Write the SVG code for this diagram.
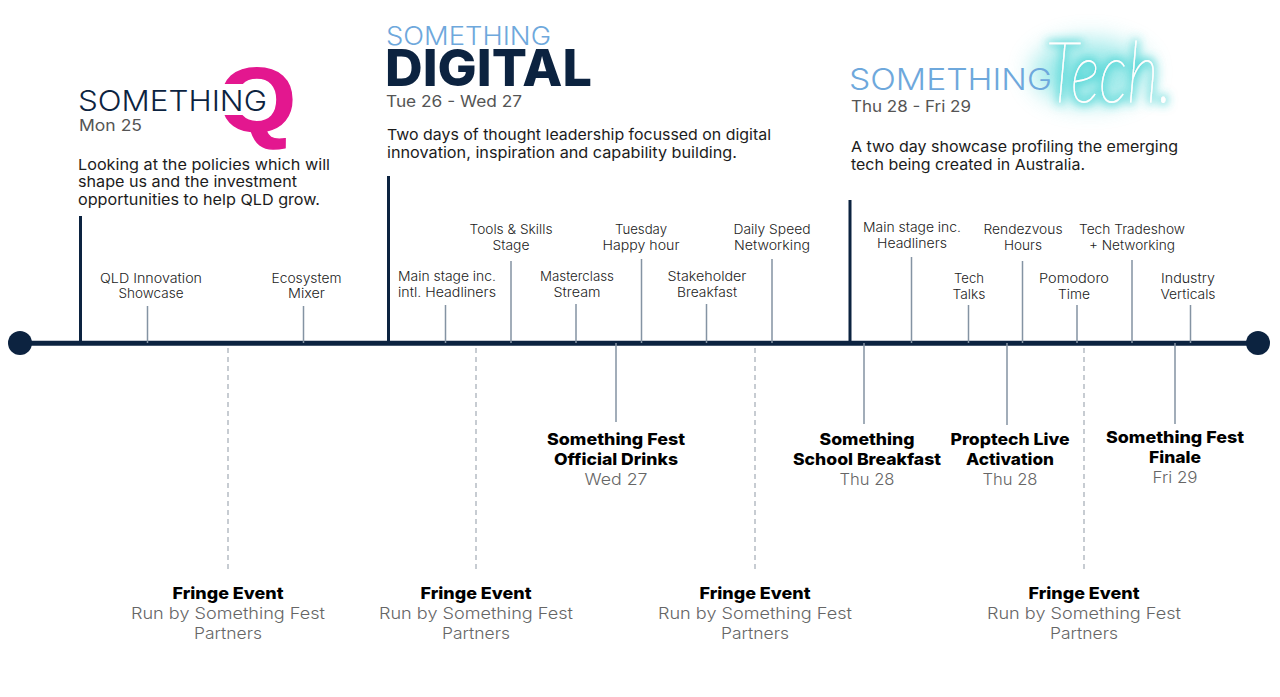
<svg xmlns="http://www.w3.org/2000/svg" width="1280" height="697" viewBox="0 0 1280 697">
<style>
text{font-family:"Inter","Open Sans","Liberation Sans",sans-serif}
.sm{font-size:13px;fill:#222;text-anchor:middle;font-weight:300}
.desc{font-size:15px;fill:#1c1c1c;font-weight:400}
.date{font-size:15.500px;fill:#555;font-weight:400}
.b{font-size:16.500px;fill:#000;font-weight:800;text-anchor:middle}
.g{font-size:16.500px;fill:#666;font-weight:300;text-anchor:middle}
.logo{font-weight:300}
.main{stroke:#0c2340;stroke-width:5;fill:none}
.bar{stroke:#0c2340;stroke-width:3;fill:none}
.tick{stroke:#8493a3;stroke-width:1.500;fill:none}
.dash{stroke:#8f99a5;stroke-width:1;stroke-dasharray:5 4;fill:none}
</style>
<defs>
<filter id="soft" x="-40%" y="-60%" width="180%" height="220%"><feGaussianBlur stdDeviation="12"/></filter>
<filter id="glow" x="-30%" y="-50%" width="160%" height="200%">
<feMorphology in="SourceAlpha" operator="dilate" radius="2" result="d"/>
<feGaussianBlur in="d" stdDeviation="5" result="b"/>
<feFlood flood-color="#35cfcf" flood-opacity=".8"/>
<feComposite in2="b" operator="in" result="c"/>
<feMerge><feMergeNode in="c"/><feMergeNode in="SourceGraphic"/></feMerge>
</filter>
</defs>
<g id="connectors">
<path class="main" d="M20 343.300H1258"/>
<path class="bar" d="M80.500 216V343M388.500 176V343M850 200V343"/>
<path class="tick" d="M147.500 306V343M303.500 306V343M445.500 305V343M511 261V343M576 304V343M641.500 259V343M706.500 304V343M772 259V343M911.500 257V343M968.500 305V343M1022.500 261V343M1077 305V343M1132 260V343M1190.500 305V343"/>
<path class="tick" d="M616 343V422M864 343V424M1007 343V425M1175 343V424"/>
<path class="dash" d="M228 348V572M476 348V572M755 348V572M1084 348V572"/>
</g>
<g id="start"><circle cx="20" cy="343" r="12" fill="#0c2340"/></g>
<g id="end"><circle cx="1258" cy="343" r="12" fill="#0c2340"/></g>

<g id="something-q">
<text x="218" y="131" font-size="91" font-weight="700" fill="#e3178f" stroke="#e3178f" stroke-width="1.500" style="font-family:'Liberation Sans',sans-serif" textLength="78" lengthAdjust="spacingAndGlyphs">Q</text>
<rect x="215" y="84" width="36" height="31" fill="#fff"/>
<text class="logo" x="78" y="111" font-size="29" fill="#0c2340" textLength="189" lengthAdjust="spacingAndGlyphs">SOMETHING</text>
<text class="date" x="79" y="131" textLength="63" lengthAdjust="spacingAndGlyphs">Mon 25</text>
<text class="desc" x="78" y="170" textLength="252" lengthAdjust="spacingAndGlyphs">Looking at the policies which will</text>
<text class="desc" x="78" y="187" textLength="219" lengthAdjust="spacingAndGlyphs">shape us and the investment</text>
<text class="desc" x="78" y="205" textLength="242" lengthAdjust="spacingAndGlyphs">opportunities to help QLD grow.</text>
</g>

<g id="something-digital">
<text class="logo" x="386" y="45" font-size="25" fill="#6ea8dc" textLength="165" lengthAdjust="spacingAndGlyphs">SOMETHING</text>
<text x="385" y="85.500" font-size="51" font-weight="800" fill="#0c2340" textLength="207" lengthAdjust="spacingAndGlyphs">DIGITAL</text>
<text class="date" x="386" y="107" textLength="136" lengthAdjust="spacingAndGlyphs">Tue 26 - Wed 27</text>
<text class="desc" x="387" y="140" textLength="384" lengthAdjust="spacingAndGlyphs">Two days of thought leadership focussed on digital</text>
<text class="desc" x="387" y="158" textLength="350" lengthAdjust="spacingAndGlyphs">innovation, inspiration and capability building.</text>
</g>

<g id="something-tech">
<ellipse cx="1090" cy="72" rx="58" ry="32" fill="#5fdcdc" opacity=".6" filter="url(#soft)"/>
<text x="1046" y="102" font-size="84" font-weight="100" font-style="italic" fill="#fff" stroke="#fff" stroke-width=".8" filter="url(#glow)" style="font-family:'Lato','Inter',sans-serif" textLength="126" lengthAdjust="spacingAndGlyphs">Tech.</text>
<text class="logo" x="849" y="90" font-size="30" fill="#6ea8dc" textLength="203" lengthAdjust="spacingAndGlyphs">SOMETHING</text>
<text class="date" x="851" y="112" textLength="120" lengthAdjust="spacingAndGlyphs">Thu 28 - Fri 29</text>
<text class="desc" x="851" y="152" textLength="327" lengthAdjust="spacingAndGlyphs">A two day showcase profiling the emerging</text>
<text class="desc" x="851" y="170" textLength="234" lengthAdjust="spacingAndGlyphs">tech being created in Australia.</text>
</g>

<g id="qld-innovation"><text class="sm" x="151" y="283" textLength="102" lengthAdjust="spacingAndGlyphs">QLD Innovation</text><text class="sm" x="151" y="298" textLength="65" lengthAdjust="spacingAndGlyphs">Showcase</text></g>
<g id="ecosystem"><text class="sm" x="306.500" y="283" textLength="70" lengthAdjust="spacingAndGlyphs">Ecosystem</text><text class="sm" x="306.500" y="298" textLength="37" lengthAdjust="spacingAndGlyphs">Mixer</text></g>
<g id="main-stage-1"><text class="sm" x="447" y="281" textLength="98" lengthAdjust="spacingAndGlyphs">Main stage inc.</text><text class="sm" x="447" y="297" textLength="98" lengthAdjust="spacingAndGlyphs">intl. Headliners</text></g>
<g id="tools-skills"><text class="sm" x="511" y="234" textLength="83" lengthAdjust="spacingAndGlyphs">Tools &amp; Skills</text><text class="sm" x="511" y="250" textLength="37" lengthAdjust="spacingAndGlyphs">Stage</text></g>
<g id="masterclass"><text class="sm" x="577" y="281" textLength="74" lengthAdjust="spacingAndGlyphs">Masterclass</text><text class="sm" x="577" y="297" textLength="47" lengthAdjust="spacingAndGlyphs">Stream</text></g>
<g id="happy-hour"><text class="sm" x="641" y="234" textLength="52" lengthAdjust="spacingAndGlyphs">Tuesday</text><text class="sm" x="641" y="250" textLength="77" lengthAdjust="spacingAndGlyphs">Happy hour</text></g>
<g id="stakeholder"><text class="sm" x="707" y="281" textLength="79" lengthAdjust="spacingAndGlyphs">Stakeholder</text><text class="sm" x="707" y="297" textLength="60" lengthAdjust="spacingAndGlyphs">Breakfast</text></g>
<g id="speed-networking"><text class="sm" x="772" y="234" textLength="77" lengthAdjust="spacingAndGlyphs">Daily Speed</text><text class="sm" x="772" y="250" textLength="76" lengthAdjust="spacingAndGlyphs">Networking</text></g>
<g id="main-stage-2"><text class="sm" x="912" y="232" textLength="98" lengthAdjust="spacingAndGlyphs">Main stage inc.</text><text class="sm" x="912" y="248" textLength="70" lengthAdjust="spacingAndGlyphs">Headliners</text></g>
<g id="tech-talks"><text class="sm" x="969" y="283" textLength="30" lengthAdjust="spacingAndGlyphs">Tech</text><text class="sm" x="969" y="299" textLength="33" lengthAdjust="spacingAndGlyphs">Talks</text></g>
<g id="rendezvous"><text class="sm" x="1023" y="234" textLength="79" lengthAdjust="spacingAndGlyphs">Rendezvous</text><text class="sm" x="1023" y="250" textLength="38" lengthAdjust="spacingAndGlyphs">Hours</text></g>
<g id="pomodoro"><text class="sm" x="1074" y="283" textLength="70" lengthAdjust="spacingAndGlyphs">Pomodoro</text><text class="sm" x="1074" y="299" textLength="32" lengthAdjust="spacingAndGlyphs">Time</text></g>
<g id="tradeshow"><text class="sm" x="1132" y="234" textLength="106" lengthAdjust="spacingAndGlyphs">Tech Tradeshow</text><text class="sm" x="1132" y="250" textLength="86" lengthAdjust="spacingAndGlyphs">+ Networking</text></g>
<g id="verticals"><text class="sm" x="1188" y="283" textLength="54" lengthAdjust="spacingAndGlyphs">Industry</text><text class="sm" x="1188" y="299" textLength="55" lengthAdjust="spacingAndGlyphs">Verticals</text></g>

<g id="official-drinks"><text class="b" x="616" y="445" textLength="138" lengthAdjust="spacingAndGlyphs">Something Fest</text><text class="b" x="616" y="465" textLength="124" lengthAdjust="spacingAndGlyphs">Official Drinks</text><text class="g" x="616" y="485" textLength="63" lengthAdjust="spacingAndGlyphs">Wed 27</text></g>
<g id="school-breakfast"><text class="b" x="867" y="445" textLength="95" lengthAdjust="spacingAndGlyphs">Something</text><text class="b" x="867" y="465" textLength="148" lengthAdjust="spacingAndGlyphs">School Breakfast</text><text class="g" x="867" y="485" textLength="55" lengthAdjust="spacingAndGlyphs">Thu 28</text></g>
<g id="proptech"><text class="b" x="1010" y="445" textLength="119" lengthAdjust="spacingAndGlyphs">Proptech Live</text><text class="b" x="1010" y="465" textLength="88" lengthAdjust="spacingAndGlyphs">Activation</text><text class="g" x="1010" y="485" textLength="55" lengthAdjust="spacingAndGlyphs">Thu 28</text></g>
<g id="finale"><text class="b" x="1175" y="443" textLength="138" lengthAdjust="spacingAndGlyphs">Something Fest</text><text class="b" x="1175" y="463" textLength="52" lengthAdjust="spacingAndGlyphs">Finale</text><text class="g" x="1175" y="483" textLength="45" lengthAdjust="spacingAndGlyphs">Fri 29</text></g>

<g id="fringe-1"><text class="b" x="228" y="599" textLength="111" lengthAdjust="spacingAndGlyphs">Fringe Event</text><text class="g" x="228" y="619" textLength="194" lengthAdjust="spacingAndGlyphs">Run by Something Fest</text><text class="g" x="228" y="639" textLength="68" lengthAdjust="spacingAndGlyphs">Partners</text></g>
<g id="fringe-2"><text class="b" x="476" y="599" textLength="111" lengthAdjust="spacingAndGlyphs">Fringe Event</text><text class="g" x="476" y="619" textLength="194" lengthAdjust="spacingAndGlyphs">Run by Something Fest</text><text class="g" x="476" y="639" textLength="68" lengthAdjust="spacingAndGlyphs">Partners</text></g>
<g id="fringe-3"><text class="b" x="755" y="599" textLength="111" lengthAdjust="spacingAndGlyphs">Fringe Event</text><text class="g" x="755" y="619" textLength="194" lengthAdjust="spacingAndGlyphs">Run by Something Fest</text><text class="g" x="755" y="639" textLength="68" lengthAdjust="spacingAndGlyphs">Partners</text></g>
<g id="fringe-4"><text class="b" x="1084" y="599" textLength="111" lengthAdjust="spacingAndGlyphs">Fringe Event</text><text class="g" x="1084" y="619" textLength="194" lengthAdjust="spacingAndGlyphs">Run by Something Fest</text><text class="g" x="1084" y="639" textLength="68" lengthAdjust="spacingAndGlyphs">Partners</text></g>
</svg>
